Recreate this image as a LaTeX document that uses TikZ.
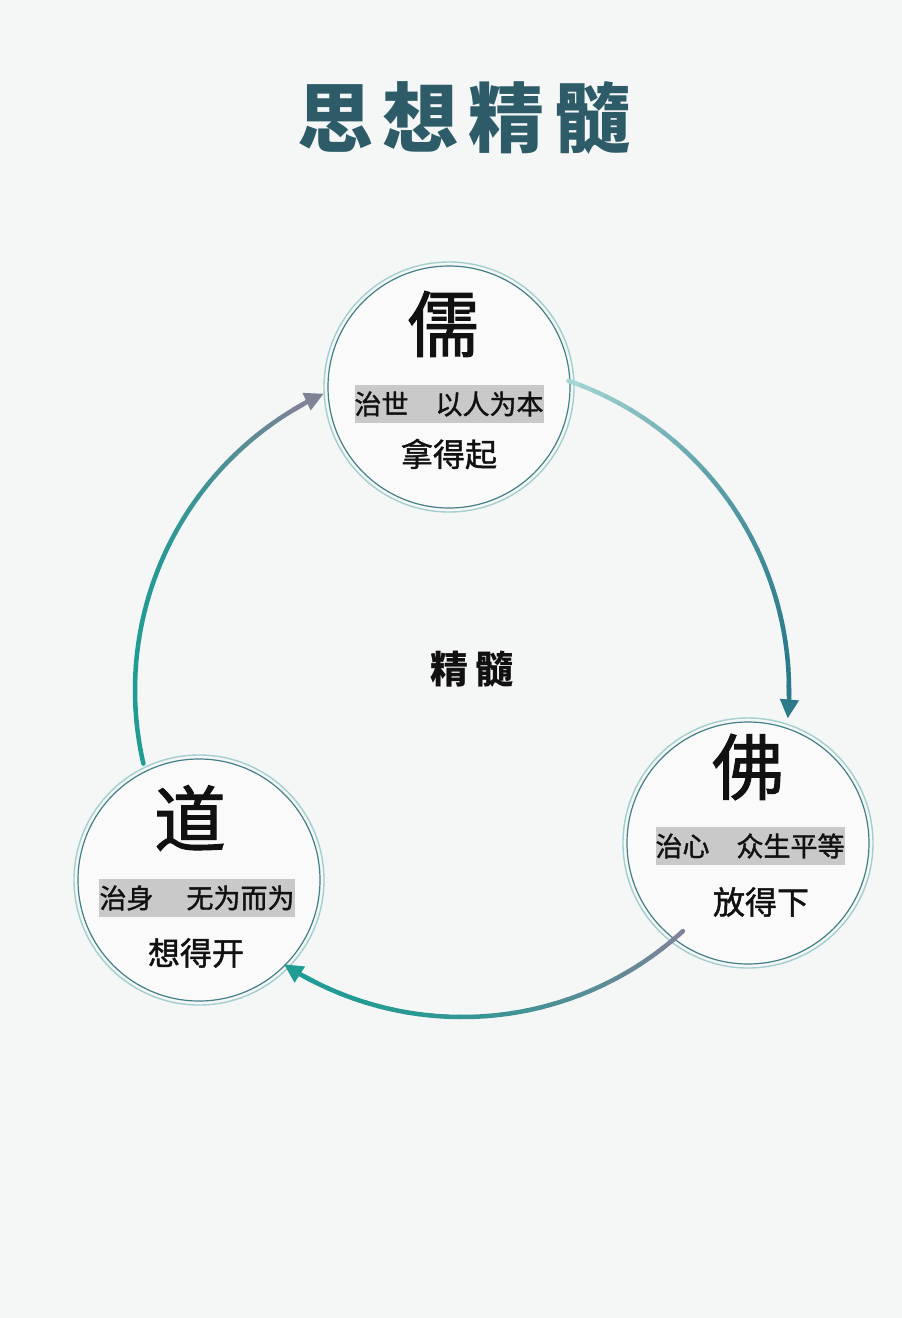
\documentclass[tikz,border=0pt]{standalone}
\usepackage{fontspec}
\usepackage{xcolor}
\usepackage{tikz}
\usetikzlibrary{arrows.meta,positioning,calc}
\newfontfamily\cjk{Noto Sans CJK SC}
\newfontfamily\cjkheavy[FakeBold=1.4]{Noto Sans CJK SC}
\definecolor{bg}{HTML}{F5F6F6}
\definecolor{ink}{HTML}{111111}
\definecolor{titleteal}{HTML}{2D5C68}
\definecolor{bandgray}{HTML}{C9C9C9}
\definecolor{ringin}{HTML}{437F88}
\definecolor{ringout}{HTML}{A3CFD1}
\definecolor{flowA}{HTML}{A6D6D3}
\definecolor{flowB}{HTML}{2A7A8A}
\definecolor{flowC}{HTML}{7E8398}
\definecolor{flowD}{HTML}{1F9C93}

\begin{document}
\begin{tikzpicture}[
  x=1pt, y=-1pt,
  ring/.style={circle, draw=ringin, line width=1.2pt, fill=white!50!bg, minimum size=242pt, inner sep=0pt},
  halo/.style={draw=ringout, line width=1.4pt},
  big/.style={font=\cjkheavy\fontsize{72}{72}\selectfont, text=ink},
  band/.style={fill=bandgray, minimum width=188pt, minimum height=38pt, inner sep=0pt, font=\cjkheavy\fontsize{27}{27}\selectfont, text=ink},
  motto/.style={font=\cjkheavy\fontsize{32}{32}\selectfont, text=ink},
  flow/.style={line width=4.5pt, line cap=round}
]
\useasboundingbox[fill=bg] (0,0) rectangle (902,1318);

% title and centre
\node[font=\cjk\bfseries\fontsize{76}{76}\selectfont, text=titleteal] (title) at (464,118)
  {思\hspace{10pt}想\hspace{10pt}精\hspace{10pt}髓};
\coordinate (hub) at (462,690);
\node[font=\cjk\bfseries\fontsize{38}{38}\selectfont, text=ink] (core) at (472,669) {精\hspace{8pt}髓};

% three schools
\node[ring] (ru) at (449,387) {};
\node[ring] (fo) at (748,843) {};
\node[ring] (dao) at (199,880) {};
\foreach \n in {ru,fo,dao}
  \draw[halo] (\n.center) circle[radius=125];

\node[big] (ruch) at (443,324) {儒};
\node[band] (ruband) at (449,404) {治世\hspace{27pt}以人为本};
\node[motto] (rumot) at (449,454) {拿得起};

\node[big] (foch) at (748,767) {佛};
\node[band] (foband) at (750,846) {治心\hspace{27pt}众生平等};
\node[motto] (fomot) at (761,902) {放得下};

\node[big] (daoch) at (190,818) {道};
\node[band, minimum width=196pt] (daoband) at (197,898) {治身\hspace{33pt}无为而为};
\node[motto] (daomot) at (196,953) {想得开};

% arrows round the hub, colour shading along each
\foreach \sa/\ea/\ca/\cb/\pp/\qq in {-71/5/flowA/flowB/1/1.5, 47.5/123/flowC/flowD/1/1.6, 167/245/flowD/flowC/3/1} {
  \foreach \i in {0,...,29} {
    \pgfmathsetmacro\aa{\sa+(\ea-4-\sa)*\i/30}
    \pgfmathsetmacro\bb{\sa+(\ea-4-\sa)*(\i+1)/30}
    \pgfmathtruncatemacro\mix{100*(1-(\i/29)^\pp)^\qq}
    \draw[flow, draw=\ca!\mix!\cb] (hub) ++(\aa:327) arc[start angle=\aa, end angle=\bb, radius=327];
  }
  \draw[flow, line cap=butt, draw=\cb, -{Triangle[length=19pt, width=18pt]}]
    (hub) ++(\ea-6:327) arc[start angle=\ea-6, end angle=\ea, radius=327];
}
\end{tikzpicture}
\end{document}
